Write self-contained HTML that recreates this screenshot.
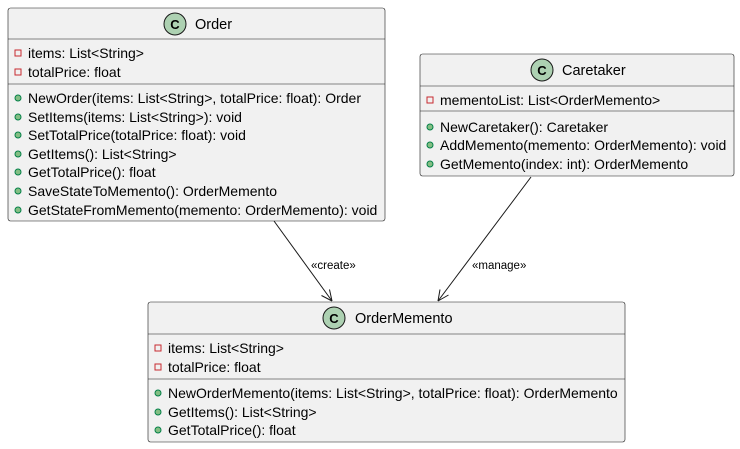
<!DOCTYPE html>
<html><head><meta charset="utf-8"><style>body{margin:0;background:#fff}svg{display:block}text{font-family:"Liberation Sans",sans-serif;font-size:14px;fill:#000}</style></head><body>
<svg width="740" height="449" viewBox="0 0 740 449" xmlns="http://www.w3.org/2000/svg">
<defs>
<g id="pv"><rect x="-3" y="-3" width="6" height="6" fill="none" stroke="#C82930" stroke-width="1"/></g>
<g id="pb"><circle r="3" fill="#84BE84" stroke="#038048" stroke-width="1"/></g>
</defs>
<!-- Order -->
<rect x="8" y="8" width="377" height="213" rx="2.5" fill="#F1F1F1" stroke="#181818" stroke-width="0.6"/>
<line x1="8" y1="39" x2="385" y2="39" stroke="#181818" stroke-width="0.6"/>
<line x1="8" y1="84" x2="385" y2="84" stroke="#181818" stroke-width="0.6"/>
<circle cx="175" cy="24" r="11" fill="#ADD1B2" stroke="#181818"/>
<text x="175" y="29" text-anchor="middle" font-weight="bold" style="font-size:13px">C</text>
<text x="195" y="29" style="font-size:14.5px">Order</text>
<use href="#pv" x="18" y="53"/><text x="28" y="58">items: List&lt;String&gt;</text>
<use href="#pv" x="18" y="72"/><text x="28" y="77">totalPrice: float</text>
<use href="#pb" x="18" y="98"/><text x="28" y="103">NewOrder(items: List&lt;String&gt;, totalPrice: float): Order</text>
<use href="#pb" x="18" y="117"/><text x="28" y="122">SetItems(items: List&lt;String&gt;): void</text>
<use href="#pb" x="18" y="135"/><text x="28" y="140">SetTotalPrice(totalPrice: float): void</text>
<use href="#pb" x="18" y="154"/><text x="28" y="159">GetItems(): List&lt;String&gt;</text>
<use href="#pb" x="18" y="172"/><text x="28" y="177">GetTotalPrice(): float</text>
<use href="#pb" x="18" y="191"/><text x="28" y="196">SaveStateToMemento(): OrderMemento</text>
<use href="#pb" x="18" y="210"/><text x="28" y="215">GetStateFromMemento(memento: OrderMemento): void</text>
<!-- Caretaker -->
<rect x="420" y="54" width="314" height="122" rx="2.5" fill="#F1F1F1" stroke="#181818" stroke-width="0.6"/>
<line x1="420" y1="86" x2="734" y2="86" stroke="#181818" stroke-width="0.6"/>
<line x1="420" y1="111" x2="734" y2="111" stroke="#181818" stroke-width="0.6"/>
<circle cx="542" cy="70" r="11" fill="#ADD1B2" stroke="#181818"/>
<text x="542" y="75" text-anchor="middle" font-weight="bold" style="font-size:13px">C</text>
<text x="562" y="75" style="font-size:14.5px">Caretaker</text>
<use href="#pv" x="430" y="100"/><text x="440" y="105">mementoList: List&lt;OrderMemento&gt;</text>
<use href="#pb" x="430" y="127"/><text x="440" y="132">NewCaretaker(): Caretaker</text>
<use href="#pb" x="430" y="145"/><text x="440" y="150">AddMemento(memento: OrderMemento): void</text>
<use href="#pb" x="430" y="164"/><text x="440" y="169">GetMemento(index: int): OrderMemento</text>
<!-- OrderMemento -->
<rect x="148" y="302" width="477" height="140" rx="2.5" fill="#F1F1F1" stroke="#181818" stroke-width="0.6"/>
<line x1="148" y1="334" x2="625" y2="334" stroke="#181818" stroke-width="0.6"/>
<line x1="148" y1="379" x2="625" y2="379" stroke="#181818" stroke-width="0.6"/>
<circle cx="334" cy="318" r="11" fill="#ADD1B2" stroke="#181818"/>
<text x="334" y="323" text-anchor="middle" font-weight="bold" style="font-size:13px">C</text>
<text x="355" y="323" style="font-size:14.5px">OrderMemento</text>
<use href="#pv" x="158" y="348"/><text x="168" y="353">items: List&lt;String&gt;</text>
<use href="#pv" x="158" y="367"/><text x="168" y="372">totalPrice: float</text>
<use href="#pb" x="158" y="393"/><text x="168" y="398">NewOrderMemento(items: List&lt;String&gt;, totalPrice: float): OrderMemento</text>
<use href="#pb" x="158" y="412"/><text x="168" y="417">GetItems(): List&lt;String&gt;</text>
<use href="#pb" x="158" y="430"/><text x="168" y="435">GetTotalPrice(): float</text>
<!-- arrows -->
<line x1="274" y1="221" x2="332" y2="301" stroke="#181818"/>
<path d="M332,301 L321.5,295.5 M332,301 L329.5,289.5" stroke="#181818" fill="none"/>
<text x="311" y="269" style="font-size:11.5px">«create»</text>
<line x1="531" y1="177" x2="438" y2="301" stroke="#181818"/>
<path d="M438,301 L440,289.5 M438,301 L448.5,295" stroke="#181818" fill="none"/>
<text x="472" y="269" style="font-size:11.5px">«manage»</text>
</svg>
</body></html>
